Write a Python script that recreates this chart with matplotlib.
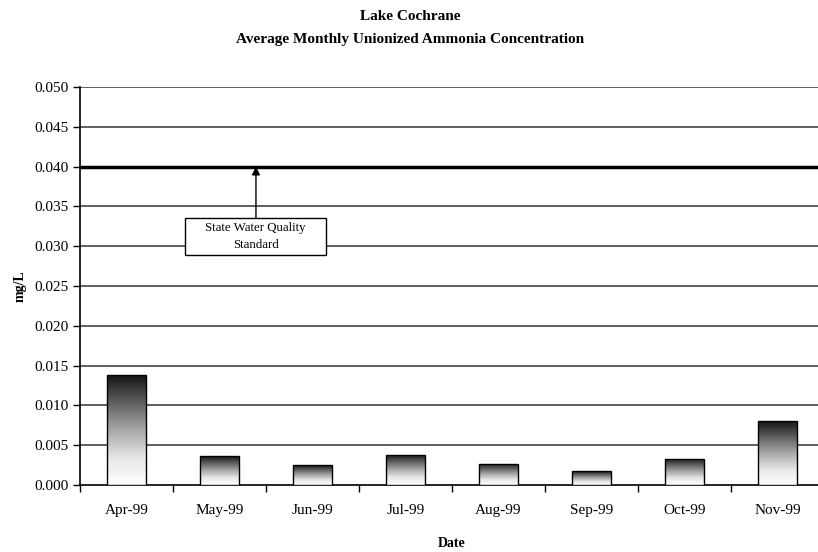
import numpy as np
import matplotlib
matplotlib.use("Agg")
import matplotlib.pyplot as plt
from matplotlib.patches import Rectangle

# data
months = ["Apr-99", "May-99", "Jun-99", "Jul-99", "Aug-99", "Sep-99", "Oct-99", "Nov-99"]
ammonia = [0.0138, 0.0036, 0.0025, 0.0038, 0.0027, 0.0017, 0.0033, 0.0080]
standard = 0.040

plt.rcParams["font.family"] = ["Liberation Serif", "DejaVu Serif"]

fig = plt.figure(figsize=(8.18, 5.52), dpi=100)
ax = fig.add_axes([80 / 818, 67 / 552, 744 / 818, 398 / 552])

x = np.arange(len(months))
width = 0.41

# gradient: dark on top, white at the bottom
grad = np.linspace(0, 1, 256).reshape(-1, 1)
cmap = matplotlib.colors.LinearSegmentedColormap.from_list(
    "bar", ["#ffffff", "#e6e6e6", "#a8a8a8", "#606060", "#151515"])

for xi, v in zip(x, ammonia):
    rect = Rectangle((xi - width / 2, 0), width, v, facecolor="none",
                     edgecolor="black", linewidth=1.0, zorder=4)
    ax.add_patch(rect)
    im = ax.imshow(grad, cmap=cmap, aspect="auto", origin="lower",
                   extent=(xi - width / 2, xi + width / 2, 0, v), zorder=3)
    im.set_clip_path(rect)

ax.set_xlim(-0.5, len(months) - 0.5)
ax.set_ylim(0, 0.050)

yt = np.arange(0, 0.0501, 0.005)
ax.set_yticks(yt)
ax.set_yticklabels(["%.3f" % t for t in yt], fontsize=11)
for t in yt[1:]:
    if abs(t - standard) > 1e-9:
        ax.axhline(t, color="#444444", linewidth=1.2, zorder=1)
ax.axhline(standard, color="black", linewidth=2.5, zorder=2)

ax.set_xticks(x)
ax.set_xticklabels(months, fontsize=11)
ax.tick_params(axis="x", length=0, pad=14)
ax.set_xticks(np.arange(-0.5, len(months)), minor=True)
ax.tick_params(axis="x", which="minor", length=5, direction="out", width=1)
ax.tick_params(axis="y", length=5, direction="out", width=1, pad=3)

for s in ["top", "right"]:
    ax.spines[s].set_visible(False)
ax.spines["left"].set_linewidth(1.2)
ax.spines["bottom"].set_linewidth(1.2)

ax.set_ylabel("mg/L", fontsize=10, fontweight="bold", labelpad=6)
ax.set_xlabel("Date", fontsize=10, fontweight="bold", labelpad=14)

# annotation box and arrow for the standard
ax.add_patch(Rectangle((0.63, 0.0289), 1.515, 0.00465, facecolor="white",
                       edgecolor="black", linewidth=1.0, zorder=6))
ax.text(1.39, 0.0312, "State Water Quality\nStandard", ha="center", va="center",
        fontsize=9.3, linespacing=1.55, zorder=7)
ax.annotate("", xy=(1.392, standard), xytext=(1.392, 0.03354),
            arrowprops=dict(arrowstyle="-|>", color="black", lw=1.0, mutation_scale=12,
                            shrinkA=0, shrinkB=0),
            zorder=6)

fig.text(410 / 818, 1 - 16 / 552, "Lake Cochrane", ha="center", va="center",
         fontsize=11, fontweight="bold")
fig.text(410 / 818, 1 - 39 / 552, "Average Monthly Unionized Ammonia Concentration",
         ha="center", va="center", fontsize=11, fontweight="bold")

fig.savefig("out.png", dpi=100)
